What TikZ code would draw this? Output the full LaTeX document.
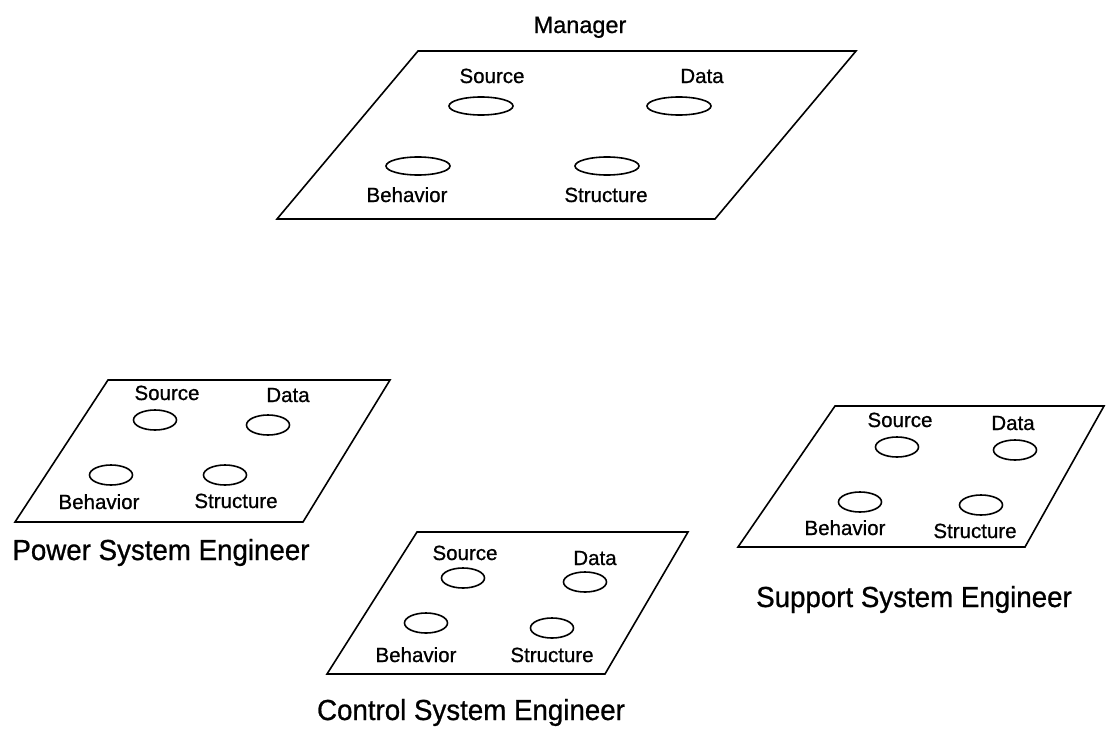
\documentclass[tikz,border=0pt]{standalone}
\usepackage{fontspec}
\setmainfont{Liberation Sans}[FakeBold=0.8]
\newfontfamily\rolefont{Liberation Sans}[FakeBold=0.8, FakeStretch=0.955]
\usetikzlibrary{shapes.geometric}
\tikzset{
  plane/.style={draw, line width=1.6pt, line join=miter},
  slot/.style={draw, ellipse, line width=1.6pt, inner sep=0pt},
  bigslot/.style={slot, minimum width=64pt, minimum height=18pt},
  smallslot/.style={slot, minimum width=43pt, minimum height=20pt},
  tag/.style={anchor=base, inner sep=0pt, font=\fontsize{20.5}{22}\selectfont},
  role/.style={anchor=base, inner sep=0pt, font=\rolefont\fontsize{29}{32}\selectfont},
  boss/.style={anchor=base, inner sep=0pt, font=\fontsize{23.5}{26}\selectfont}
}
\begin{document}
\begin{tikzpicture}[x=1pt, y=-1pt]
\useasboundingbox (0,0) rectangle (1106,731);

% Manager plane
\coordinate (m1) at (418,51);
\coordinate (m2) at (856,51);
\coordinate (m3) at (715,219);
\coordinate (m4) at (277,219);
\draw[plane] (m1) -- (m2) -- (m3) -- (m4) -- cycle;
\node[boss] (mtitle) at (580,33) {Manager};
\node[tag] (msrcT) at (492,83) {Source};
\node[bigslot] (msrc) at (481,106) {};
\node[tag] (mdatT) at (702,83) {Data};
\node[bigslot] (mdat) at (679,106) {};
\node[bigslot] (mbeh) at (418,166) {};
\node[tag] (mbehT) at (407,202) {Behavior};
\node[bigslot] (mstr) at (607,166) {};
\node[tag] (mstrT) at (606,202) {Structure};

% Power system engineer plane
\coordinate (p1) at (108,380);
\coordinate (p2) at (390,380);
\coordinate (p3) at (303,522);
\coordinate (p4) at (15,522);
\draw[plane] (p1) -- (p2) -- (p3) -- (p4) -- cycle;
\node[tag] (psrcT) at (167,400) {Source};
\node[smallslot] (psrc) at (155,420) {};
\node[tag] (pdatT) at (288,402) {Data};
\node[smallslot] (pdat) at (268,425) {};
\node[smallslot] (pbeh) at (111,475) {};
\node[tag] (pbehT) at (99,509) {Behavior};
\node[smallslot] (pstr) at (225,475) {};
\node[tag] (pstrT) at (236,508) {Structure};
\node[role] (ptitle) at (161,560) {Power System Engineer};

% Control system engineer plane
\coordinate (c1) at (417,532);
\coordinate (c2) at (688,532);
\coordinate (c3) at (605,674);
\coordinate (c4) at (327,674);
\draw[plane] (c1) -- (c2) -- (c3) -- (c4) -- cycle;
\node[tag] (csrcT) at (465,560) {Source};
\node[smallslot] (csrc) at (463,578) {};
\node[tag] (cdatT) at (595,565) {Data};
\node[smallslot] (cdat) at (585,582) {};
\node[smallslot] (cbeh) at (426,623) {};
\node[tag] (cbehT) at (416,662) {Behavior};
\node[smallslot] (cstr) at (552,628) {};
\node[tag] (cstrT) at (552,662) {Structure};
\node[role] (ctitle) at (471,720) {Control System Engineer};

% Support system engineer plane
\coordinate (s1) at (835,406);
\coordinate (s2) at (1104,406);
\coordinate (s3) at (1025,547);
\coordinate (s4) at (738,547);
\draw[plane] (s1) -- (s2) -- (s3) -- (s4) -- cycle;
\node[tag] (ssrcT) at (900,427) {Source};
\node[smallslot] (ssrc) at (897,447) {};
\node[tag] (sdatT) at (1013,430) {Data};
\node[smallslot] (sdat) at (1015,450) {};
\node[smallslot] (sbeh) at (860,502) {};
\node[tag] (sbehT) at (845,535) {Behavior};
\node[smallslot] (sstr) at (981,505) {};
\node[tag] (sstrT) at (975,538) {Structure};
\node[role] (stitle) at (914,607) {Support System Engineer};
\end{tikzpicture}
\end{document}
